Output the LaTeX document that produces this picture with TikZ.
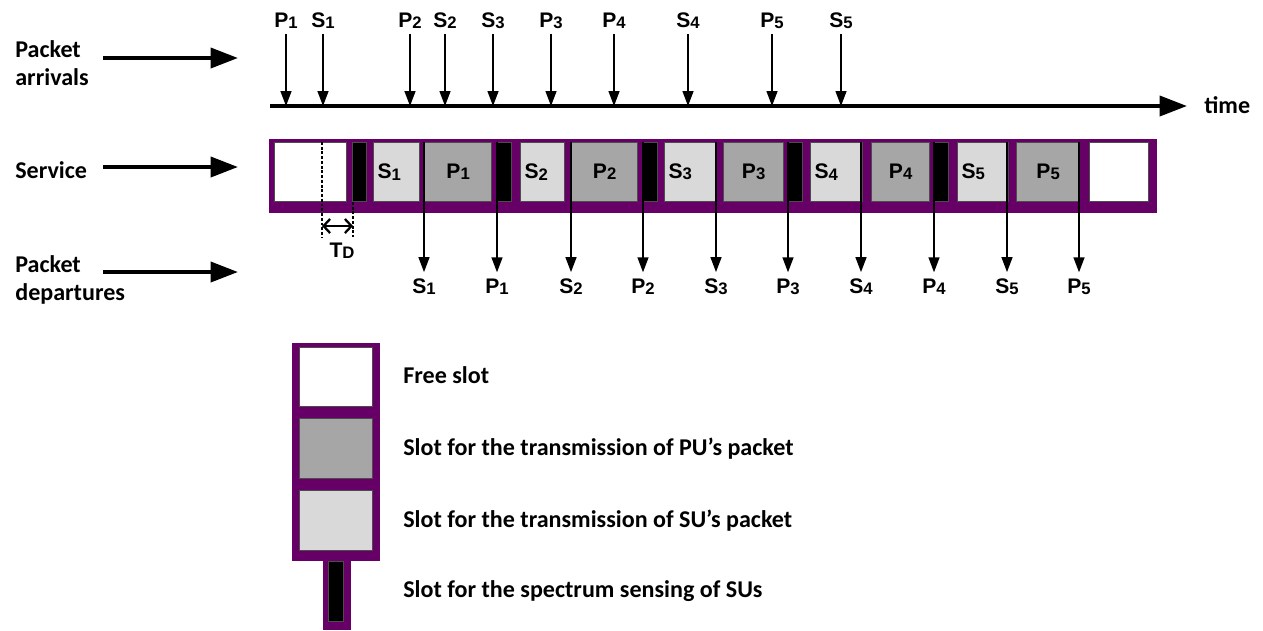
\documentclass[tikz,border=0pt]{standalone}
\usepackage{fontspec}
\setmainfont{Carlito}
\newfontfamily\arialfont{Liberation Sans}
\usepackage{tikz}
\usetikzlibrary{arrows.meta}
\definecolor{slotpurple}{RGB}{102,0,102}
\definecolor{pgray}{RGB}{166,166,166}
\definecolor{sgray}{RGB}{217,217,217}
\tikzstyle{arrow} = [line width=0.8pt, -{Triangle[length=0.3cm, width=0.22cm]}]
\tikzstyle{bigarrow} = [line width=2.3pt, -{Triangle[length=0.55cm, width=0.4cm]}]
\tikzstyle{tdarrow} = [line width=1.3pt, {Straight Barb[length=0.13cm, width=0.28cm]}-{Straight Barb[length=0.13cm, width=0.28cm]}]
\tikzstyle{tdline} = [line width=1.4pt, dash pattern=on 1.6pt off 1.1pt]
\tikzstyle{slot} = [rectangle, draw=black!70, line width=0.7pt, minimum height=1.18cm, inner sep=0pt, anchor=north west]
\tikzstyle{freeslot} = [slot, fill=white]
\tikzstyle{pslot} = [slot, fill=pgray]
\tikzstyle{sslot} = [slot, fill=sgray, align=left, inner xsep=0.08cm]
\tikzstyle{sense} = [slot, fill=black, minimum width=0.28cm]
\tikzstyle{band} = [rectangle, fill=slotpurple, inner sep=0pt, anchor=north west]
\tikzstyle{caption} = [anchor=base west, inner xsep=0pt]
\newcommand{\pkt}[2]{{\arialfont\bfseries\fontsize{12}{12}\selectfont #1\raisebox{-0.6pt}{\fontsize{9.5}{9.5}\selectfont #2}}}

\begin{document}
\begin{tikzpicture}[x=0.02cm, y=-0.02cm, font=\bfseries\fontsize{13.7}{15.4}\selectfont]
        \useasboundingbox (0,0) rectangle (1263,630);

        \node (larrivals) [caption, align=left] at (15,85) {Packet\\arrivals};
        \node (lservice) [caption] at (15,178) {Service};
        \node (ldepartures) [caption, align=left] at (15,300) {Packet\\departures};
        \coordinate (arrin) at (103,58);
        \coordinate (arrout) at (238,58);
        \coordinate (srvin) at (103,167);
        \coordinate (srvout) at (238,167);
        \coordinate (depin) at (103,272);
        \coordinate (depout) at (238,272);
        \draw [bigarrow] (arrin) -- (arrout);
        \draw [bigarrow] (srvin) -- (srvout);
        \draw [bigarrow] (depin) -- (depout);

        \coordinate (t0) at (270,106);
        \coordinate (t1) at (1187,106);
        \draw [bigarrow] (t0) -- (t1);
        \node (time) [caption] at (1204,113) {time};

        \node (aP1) [anchor=base] at (286,27) {\pkt{P}{1}};
        \node (aS1) [anchor=base] at (323,27) {\pkt{S}{1}};
        \node (aP2) [anchor=base] at (410,27) {\pkt{P}{2}};
        \node (aS2) [anchor=base] at (445,27) {\pkt{S}{2}};
        \node (aS3) [anchor=base] at (493,27) {\pkt{S}{3}};
        \node (aP3) [anchor=base] at (551,27) {\pkt{P}{3}};
        \node (aP4) [anchor=base] at (614,27) {\pkt{P}{4}};
        \node (aS4) [anchor=base] at (688,27) {\pkt{S}{4}};
        \node (aP5) [anchor=base] at (772,27) {\pkt{P}{5}};
        \node (aS5) [anchor=base] at (841,27) {\pkt{S}{5}};
        \draw [arrow] (aP1) -- (aP1 |- t0);
        \draw [arrow] (aS1) -- (aS1 |- t0);
        \draw [arrow] (aP2) -- (aP2 |- t0);
        \draw [arrow] (aS2) -- (aS2 |- t0);
        \draw [arrow] (aS3) -- (aS3 |- t0);
        \draw [arrow] (aP3) -- (aP3 |- t0);
        \draw [arrow] (aP4) -- (aP4 |- t0);
        \draw [arrow] (aS4) -- (aS4 |- t0);
        \draw [arrow] (aP5) -- (aP5 |- t0);
        \draw [arrow] (aS5) -- (aS5 |- t0);

        \node (bar) [band, minimum width=17.76cm, minimum height=1.48cm] at (269,139) {};
        \node (free1) [freeslot, minimum width=1.44cm] at (274,142) {};
        \node (sense1) [sense] at (352,142) {};
        \node (sS1) [sslot, minimum width=0.92cm, text width=0.76cm] at (373,142) {\pkt{S}{1}};
        \node (sP1) [pslot, minimum width=1.34cm] at (424,142) {\pkt{P}{1}};
        \node (sense2) [sense] at (497,142) {};
        \node (sS2) [sslot, minimum width=0.88cm, text width=0.72cm] at (520,142) {\pkt{S}{2}};
        \node (sP2) [pslot, minimum width=1.32cm] at (571,142) {\pkt{P}{2}};
        \node (sense3) [sense] at (643,142) {};
        \node (sS3) [sslot, minimum width=1.04cm, text width=0.88cm] at (664,142) {\pkt{S}{3}};
        \node (sP3) [pslot, minimum width=1.2cm] at (723,142) {\pkt{P}{3}};
        \node (sense4) [sense] at (788,142) {};
        \node (sS4) [sslot, minimum width=1.04cm, text width=0.88cm] at (810,142) {\pkt{S}{4}};
        \node (sP4) [pslot, minimum width=1.16cm] at (871,142) {\pkt{P}{4}};
        \node (sense5) [sense] at (934,142) {};
        \node (sS5) [sslot, minimum width=1.02cm, text width=0.86cm] at (957,142) {\pkt{S}{5}};
        \node (sP5) [pslot, minimum width=1.26cm] at (1016,142) {\pkt{P}{5}};
        \node (free2) [freeslot, minimum width=1.18cm] at (1089,142) {};

        \coordinate (td0) at (322,142);
        \coordinate (td1) at (322,237);
        \coordinate (td2) at (353,202);
        \coordinate (td3) at (353,237);
        \coordinate (tdl) at (322,226);
        \coordinate (tdr) at (353,226);
        \draw [tdline] (td0) -- (td1);
        \draw [tdline] (td2) -- (td3);
        \draw [tdarrow] (tdl) -- (tdr);
        \node (td) [anchor=base] at (342,257) {\pkt{T}{D}};

        \node (dS1) [anchor=base] at (424,293) {\pkt{S}{1}};
        \node (dP1) [anchor=base] at (497,293) {\pkt{P}{1}};
        \node (dS2) [anchor=base] at (571,293) {\pkt{S}{2}};
        \node (dP2) [anchor=base] at (643,293) {\pkt{P}{2}};
        \node (dS3) [anchor=base] at (716,293) {\pkt{S}{3}};
        \node (dP3) [anchor=base] at (788,293) {\pkt{P}{3}};
        \node (dS4) [anchor=base] at (861,293) {\pkt{S}{4}};
        \node (dP4) [anchor=base] at (934,293) {\pkt{P}{4}};
        \node (dS5) [anchor=base] at (1007,293) {\pkt{S}{5}};
        \node (dP5) [anchor=base] at (1079,293) {\pkt{P}{5}};
        \draw [arrow] (dS1 |- sS1.north) -- (dS1);
        \draw [arrow] (dP1 |- sS1.north) -- (dP1);
        \draw [arrow] (dS2 |- sS1.north) -- (dS2);
        \draw [arrow] (dP2 |- sS1.north) -- (dP2);
        \draw [arrow] (dS3 |- sS1.north) -- (dS3);
        \draw [arrow] (dP3 |- sS1.north) -- (dP3);
        \draw [arrow] (dS4 |- sS1.north) -- (dS4);
        \draw [arrow] (dP4 |- sS1.north) -- (dP4);
        \draw [arrow] (dS5 |- sS1.north) -- (dS5);
        \draw [arrow] (dP5 |- sS1.north) -- (dP5);

        \node (legcol) [band, minimum width=1.76cm, minimum height=4.36cm] at (292,343) {};
        \node (legfree) [freeslot, minimum width=1.46cm] at (299,347) {};
        \node (legp) [pslot, minimum width=1.46cm, minimum height=1.2cm] at (299,418) {};
        \node (legs) [sslot, minimum width=1.46cm, minimum height=1.2cm] at (299,490) {};
        \node (legsenseband) [band, minimum width=0.56cm, minimum height=1.38cm] at (323,561) {};
        \node (legsense) [sense, minimum width=0.3cm, minimum height=1.2cm] at (328,561) {};
        \node (txtfree) [caption] at (403,383) {Free slot};
        \node (txtp) [caption] at (403,455) {Slot for the transmission of PU’s packet};
        \node (txts) [caption] at (403,527) {Slot for the transmission of SU’s packet};
        \node (txtsense) [caption] at (403,597) {Slot for the spectrum sensing of SUs};
    \end{tikzpicture}
\end{document}
